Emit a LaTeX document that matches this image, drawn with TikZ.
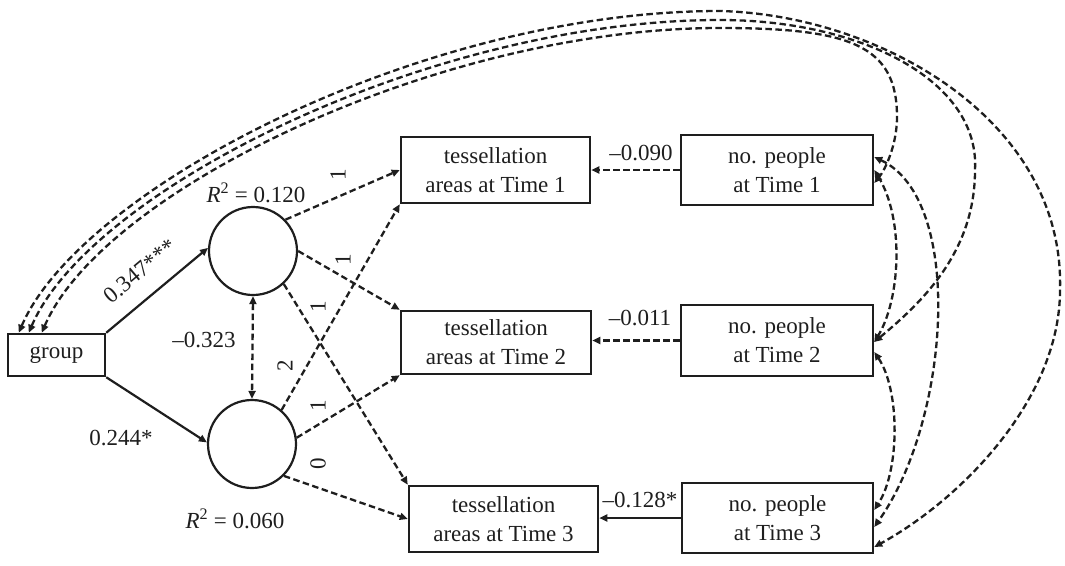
\documentclass[tikz,border=0pt]{standalone}
\usepackage{fontspec}
\setmainfont{Liberation Serif}
\usetikzlibrary{arrows.meta,calc}
\definecolor{inkc}{RGB}{30,30,30}
\newcommand\dfont{\fontsize{23}{29}\selectfont}
\begin{document}
\begin{tikzpicture}[x=1pt,y=-1pt,
  boxn/.style={draw=inkc, line width=2.5pt, inner sep=0pt, align=center, font=\dfont, text=inkc},
  circ/.style={draw=inkc, line width=2.2pt, circle, minimum size=88pt, inner sep=0pt},
  lbl/.style={font=\dfont, text=inkc, inner sep=0pt},
  tipx/.tip={Triangle[length=8pt,width=7pt]},
  dar/.style={draw=inkc, line width=2.3pt, dash pattern=on 6.5pt off 3.5pt, -tipx},
  sar/.style={draw=inkc, line width=2.2pt, -tipx},
  cov/.style={draw=inkc, line width=2.3pt, dash pattern=on 6.5pt off 3.5pt, tipx-tipx}]
\useasboundingbox (0,0) rectangle (1065,565);
% nodes
\node[boxn, minimum width=97pt, minimum height=42pt] (g) at (56.5,355) {group};
\node[circ] (u) at (253,251) {};
\node[circ] (l) at (252,444) {};
\node[boxn, minimum width=189pt, minimum height=66pt] (t1) at (495.5,170) {tessellation\\areas at Time 1};
\node[boxn, minimum width=190pt, minimum height=63pt] (t2) at (496,342.5) {tessellation\\areas at Time 2};
\node[boxn, minimum width=189pt, minimum height=66pt] (t3) at (503.5,519) {tessellation\\areas at Time 3};
\node[boxn, minimum width=192pt, minimum height=70pt] (p1) at (777,170) {no. people\\at Time 1};
\node[boxn, minimum width=192pt, minimum height=71pt] (p2) at (777,340.5) {no. people\\at Time 2};
\node[boxn, minimum width=191pt, minimum height=70pt] (p3) at (777.5,518) {no. people\\at Time 3};
% paths from latent variables
\draw[dar] (u.44) -- (t1.west);
\draw[dar] (u.east) -- (t2.north west);
\draw[dar] (u.-47) -- (t3.north west);
\draw[dar] (l.49) -- (t1.south west);
\draw[dar] (l.8) -- (t2.south west);
\draw[dar] (l.-45) -- (t3.west);
\draw[cov] (u.south) -- (l.north);
\draw[sar] (g.north east) -- (u.176);
\draw[sar] (g.south east) -- (l.178);
% people to tessellation
\draw[dar] (p1.west) -- (t1.east);
\draw[dar] (p2.west) -- (p2.west -| t2.east);
\draw[sar] (p3.west) -- (p3.west -| t3.east);
% covariances group - people
\draw[cov] ($(g.north west)+(12,0)$) .. controls (80,190) and (420,11) .. (720,11)
  .. controls (880,15) and (1065,120) .. (1060,290)
  .. controls (1060,400) and (960,500) .. ($(p3.east)+(0,29)$);
\draw[cov] ($(g.north west)+(22,0)$) .. controls (90,190) and (430,20) .. (720,20)
  .. controls (860,20) and (980,80) .. (975,170)
  .. controls (975,250) and (925,300) .. ($(p2.east)+(0,1.5)$);
\draw[cov] ($(g.north west)+(35,0)$) .. controls (103,190) and (440,28) .. (720,28)
  .. controls (850,28) and (897,45) .. (897,117)
  .. controls (897,145) and (885,170) .. ($(p1.east)+(0,13)$);
% covariances among people
\draw[cov] ($(p1.east)+(0,-13)$) .. controls (965,200) and (950,420) .. ($(p3.east)+(0,9)$);
\draw[cov] (p1.east) .. controls (905,220) and (900,300) .. ($(p2.east)+(0,1.5)$);
\draw[cov] ($(p2.east)+(0,11.5)$) .. controls (900,390) and (900,470) .. ($(p3.east)+(0,-8)$);
% labels
\node[lbl, rotate=40] (la) at (140,271) {0.347***};
\node[lbl] (lb) at (121,438) {0.244*};
\node[lbl] (lc) at (204,340) {–0.323};
\node[lbl] (ld) at (256,193) {\textit{R}\textsuperscript{2} = 0.120};
\node[lbl] (le) at (235,519) {\textit{R}\textsuperscript{2} = 0.060};
\node[lbl, rotate=90] (w1) at (338,175) {1};
\node[lbl, rotate=90] (w2) at (343,260) {1};
\node[lbl, rotate=90] (w3) at (318,307) {1};
\node[lbl, rotate=90] (w4) at (285,366) {2};
\node[lbl, rotate=90] (w5) at (318,406) {1};
\node[lbl, rotate=90] (w6) at (318,464) {0};
\node[lbl] (lf) at (641,153) {–0.090};
\node[lbl] (lg) at (640,318) {–0.011};
\node[lbl] (lh) at (640,500) {–0.128*};
\end{tikzpicture}
\end{document}
